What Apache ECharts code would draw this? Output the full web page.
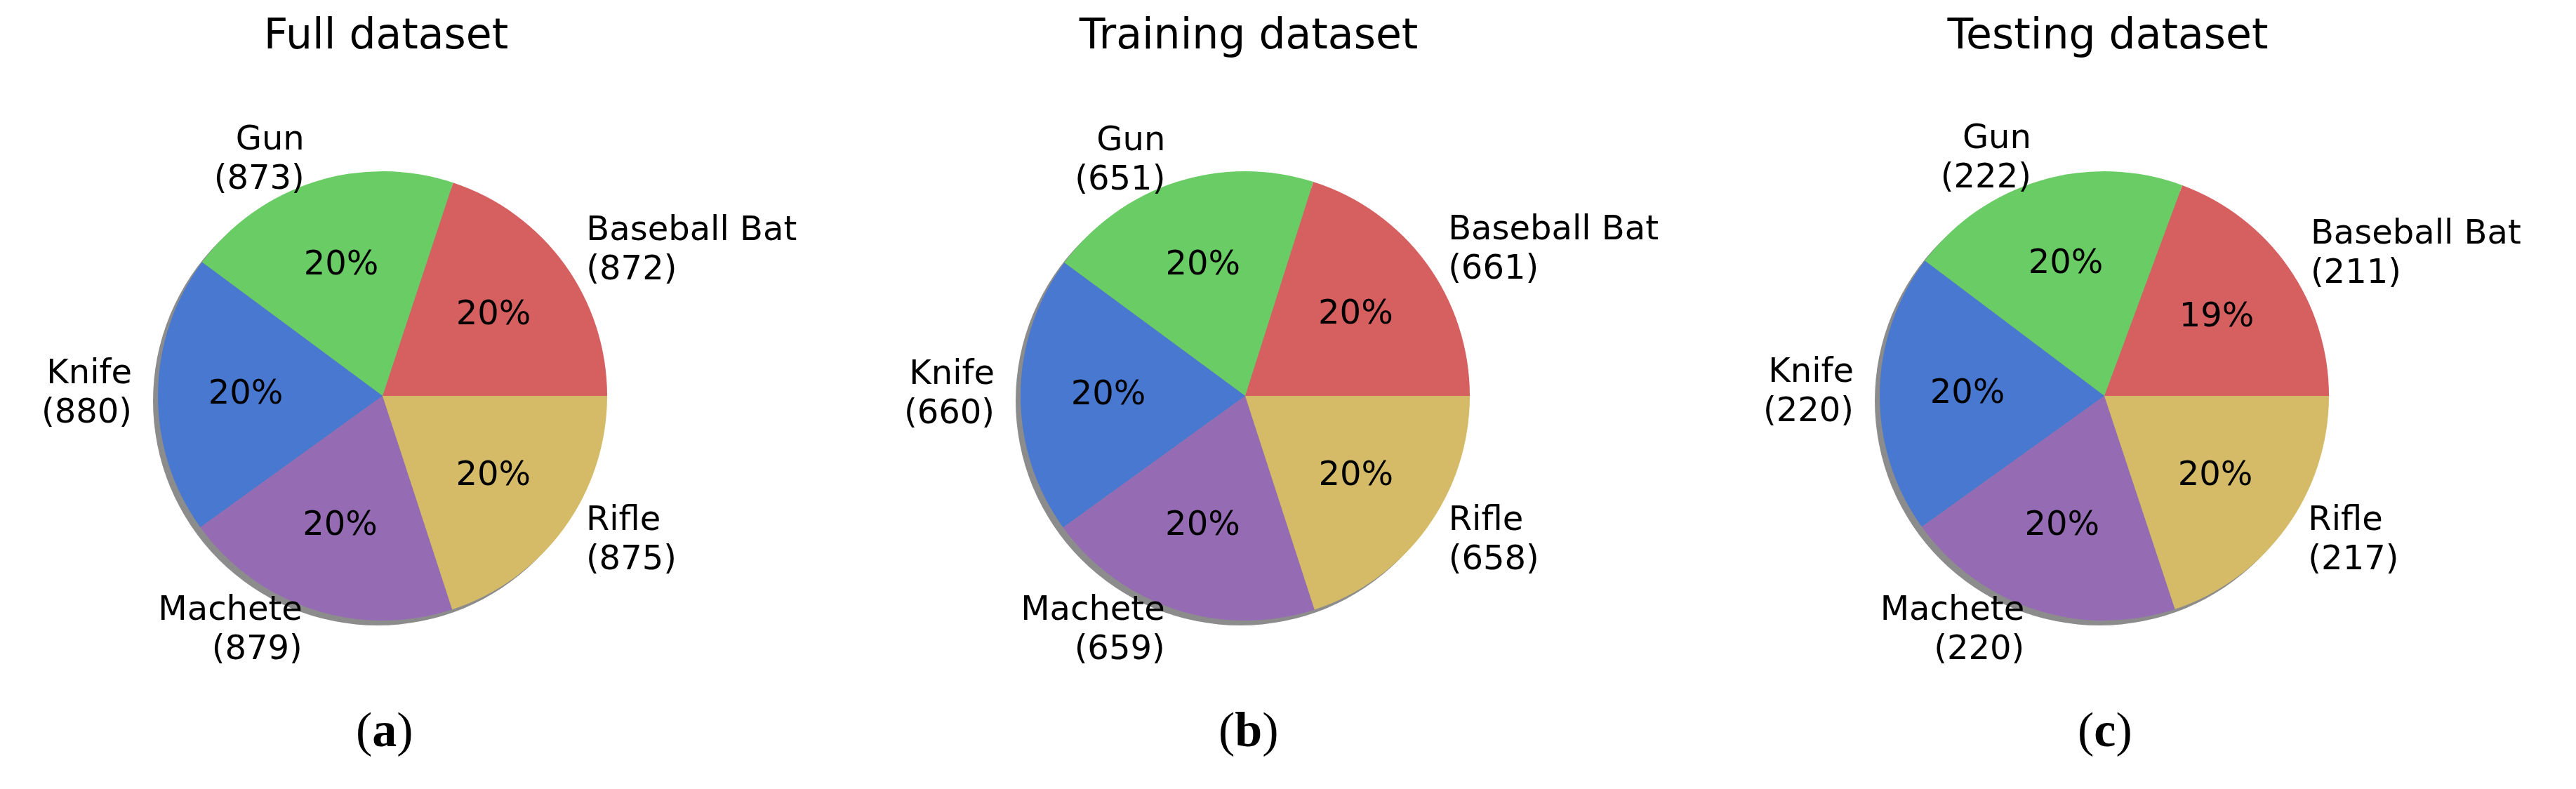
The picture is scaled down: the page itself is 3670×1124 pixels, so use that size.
<!DOCTYPE html>
<html>
<head>
<meta charset="utf-8">
<script src="https://cdn.jsdelivr.net/npm/echarts@6/dist/echarts.min.js"></script>
<style>html,body{margin:0;padding:0;background:#fff}#chart{width:3670px;height:1124px}</style>
</head>
<body>
<div id="chart"></div>
<script>
// 数据
const categories = ['Baseball Bat', 'Gun', 'Knife', 'Machete', 'Rifle'];
const fullValues = [872, 873, 880, 879, 875];
const trainValues = [661, 651, 660, 659, 658];
const testValues = [211, 222, 220, 220, 217];
const titles = ['Full dataset', 'Training dataset', 'Testing dataset'];
const tags = ['a', 'b', 'c'];
const colors = ['#d65f5f', '#6acc64', '#4878d0', '#956cb4', '#d5bb67'];

const centersX = [545, 1774, 2998];
const cy = 564;
const R = 320;
const font = 'DejaVu Sans';

const chart = echarts.init(document.getElementById('chart'));
const series = [];
const title = [];
const graphic = [];

[fullValues, trainValues, testValues].forEach((vals, i) => {
  const cx = centersX[i];
  const total = vals.reduce((a, b) => a + b, 0);
  const data = categories.map((c, k) => ({ name: c, value: vals[k] }));
  // 阴影
  series.push({
    type: 'pie', silent: true, center: [cx - 7, cy + 7], radius: R,
    data: [{ value: 1, itemStyle: { color: '#8c8c8c' } }],
    label: { show: false }, animation: false
  });
  // 外部标签
  series.push({
    type: 'pie', center: [cx, cy], radius: R, startAngle: 0, clockwise: false,
    animation: false, color: colors, data,
    label: {
      show: true, position: 'outside', fontFamily: font, fontSize: 48, color: '#000',
      lineHeight: 56, formatter: p => p.name + '\n(' + p.value + ')', align: 'center'
    },
    labelLine: { show: false, length: R * 0.1, length2: 0 }
  });
  // 百分比
  series.push({
    type: 'pie', center: [cx, cy], radius: [R * 0.2, R], startAngle: 0, clockwise: false,
    animation: false, data, silent: true,
    itemStyle: { color: 'rgba(0,0,0,0)' },
    label: {
      show: true, position: 'inside', fontFamily: font, fontSize: 48, color: '#000',
      formatter: p => Math.round(p.value / total * 100) + '%'
    },
    labelLine: { show: false }
  });
  title.push({
    text: titles[i], left: cx, top: 18, textAlign: 'center',
    textStyle: { fontFamily: font, fontSize: 60, fontWeight: 'normal', color: '#000' }
  });
  graphic.push({
    type: 'text', left: cx - 38, top: 1010,
    style: {
      text: '(' + '{b|' + tags[i] + '})', font: '70px "Liberation Serif"', fill: '#000',
      rich: { b: { fontFamily: 'Liberation Serif', fontSize: 70, fontWeight: 'bold' } }
    }
  });
});

chart.setOption({ animation: false, title, series, graphic });
</script>
</body>
</html>
